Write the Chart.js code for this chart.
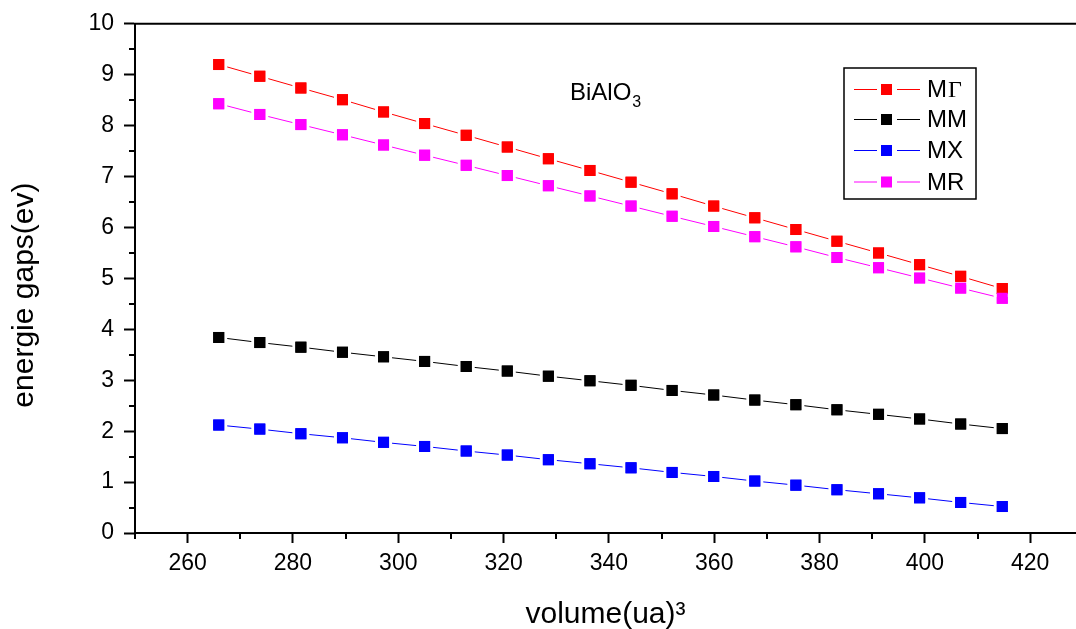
<!DOCTYPE html>
<html>
<head>
<meta charset="utf-8">
<script src="https://cdn.jsdelivr.net/npm/chart.js@4/dist/chart.umd.min.js"></script>
<style>
  html, body { margin: 0; padding: 0; background: #ffffff; overflow: hidden; }
  #wrap { width: 1076px; height: 629px; overflow: hidden; }
  canvas { display: block; }
</style>
</head>
<body>
<div id="wrap"><canvas id="c" width="1076" height="629"></canvas></div>
<script>
// ---- data ----
const volumes = [265.9, 273.7, 281.5, 289.4, 297.2, 305.0, 312.9, 320.7, 328.5, 336.4,
                 344.2, 352.0, 359.9, 367.7, 375.5, 383.3, 391.2, 399.0, 406.8, 414.7];
const gapMGamma = [9.20, 8.97, 8.74, 8.51, 8.27, 8.04, 7.81, 7.58, 7.35, 7.12,
                   6.89, 6.66, 6.42, 6.19, 5.96, 5.73, 5.50, 5.27, 5.04, 4.80];
const gapMM = [3.84, 3.74, 3.65, 3.55, 3.46, 3.37, 3.27, 3.18, 3.08, 2.99,
               2.90, 2.80, 2.71, 2.61, 2.52, 2.42, 2.33, 2.24, 2.14, 2.05];
const gapMX = [2.12, 2.04, 1.95, 1.87, 1.78, 1.70, 1.61, 1.53, 1.44, 1.36,
               1.28, 1.19, 1.11, 1.02, 0.94, 0.85, 0.77, 0.69, 0.60, 0.52];
const gapMR = [8.43, 8.22, 8.02, 7.82, 7.62, 7.42, 7.22, 7.02, 6.82, 6.62,
               6.42, 6.22, 6.02, 5.82, 5.62, 5.41, 5.21, 5.01, 4.81, 4.61];
const seriesLabels = ['M\u0393', 'MM', 'MX', 'MR'];
const seriesColors = ['#ff0000', '#000000', '#0000ff', '#ff00ff'];
const xTickLabels = [260, 280, 300, 320, 340, 360, 380, 400, 420];
const xMinorTicks = [250, 270, 290, 310, 330, 350, 370, 390, 410];
const yTickLabels = [0, 1, 2, 3, 4, 5, 6, 7, 8, 9, 10];
const yMinorTicks = [0.5, 1.5, 2.5, 3.5, 4.5, 5.5, 6.5, 7.5, 8.5, 9.5];
const xTitle = 'volume(ua)\u00b3';
const yTitle = 'energie gaps(ev)';
const compoundName = 'BiAlO';
const compoundSub = '3';

const FONT = "'Liberation Sans', Arial, sans-serif";
const allSeries = [gapMGamma, gapMM, gapMX, gapMR];

const datasets = allSeries.map((vals, i) => ({
  label: seriesLabels[i],
  data: volumes.map((v, k) => ({ x: v, y: vals[k] })),
  borderColor: seriesColors[i],
  borderWidth: 1,
  pointStyle: 'rect',
  pointRadius: 9.9,
  pointHoverRadius: 9.9,
  pointBackgroundColor: seriesColors[i],
  pointBorderColor: '#ffffff',
  pointBorderWidth: 3,
  tension: 0,
  fill: false
}));

// redraw marker fills on top so white halos never hide a neighbouring marker
const markerPlugin = {
  id: 'markers',
  afterDatasetsDraw(chart) {
    const ctx = chart.ctx;
    ctx.save();
    chart.data.datasets.forEach((ds, i) => {
      const meta = chart.getDatasetMeta(i);
      ctx.fillStyle = ds.pointBackgroundColor;
      meta.data.forEach(pt => {
        ctx.fillRect(pt.x - 5.5, pt.y - 5.5, 11, 11);
      });
    });
    ctx.restore();
  }
};

const decorPlugin = {
  id: 'decor',
  afterDraw(chart) {
    const ctx = chart.ctx;
    const xs = chart.scales.x, ys = chart.scales.y;
    const area = chart.chartArea;
    ctx.save();
    ctx.strokeStyle = '#000';
    ctx.lineWidth = 2;
    // top frame line
    ctx.beginPath();
    ctx.moveTo(area.left - 1, area.top);
    ctx.lineTo(area.right, area.top);
    ctx.stroke();
    // minor ticks
    xMinorTicks.forEach(v => {
      const px = Math.round(xs.getPixelForValue(v));
      ctx.beginPath();
      ctx.moveTo(px, area.bottom);
      ctx.lineTo(px, area.bottom + 6);
      ctx.stroke();
    });
    yMinorTicks.forEach(v => {
      const py = Math.round(ys.getPixelForValue(v));
      ctx.beginPath();
      ctx.moveTo(area.left, py);
      ctx.lineTo(area.left - 6, py);
      ctx.stroke();
    });
    // compound annotation
    ctx.fillStyle = '#000';
    ctx.textBaseline = 'alphabetic';
    ctx.textAlign = 'left';
    ctx.font = '24px ' + FONT;
    const tx = xs.getPixelForValue(332.6), ty = ys.getPixelForValue(8.51);
    ctx.fillText(compoundName, tx, ty);
    const w = ctx.measureText(compoundName).width;
    ctx.font = '16px ' + FONT;
    ctx.fillText(compoundSub, tx + w + 1, ty + 7);

    // legend
    const bx = 844, by = 68, bw = 132, bh = 131;
    ctx.lineWidth = 1.5;
    ctx.strokeStyle = '#000';
    ctx.strokeRect(bx, by, bw, bh);
    const rows = [89.5, 119.5, 150.5, 182];
    chart.data.datasets.forEach((ds, i) => {
      const y = rows[i];
      ctx.strokeStyle = ds.borderColor;
      ctx.lineWidth = 1;
      ctx.beginPath();
      ctx.moveTo(854, y); ctx.lineTo(877, y);
      ctx.moveTo(897, y); ctx.lineTo(920, y);
      ctx.stroke();
      ctx.fillStyle = ds.pointBackgroundColor;
      ctx.fillRect(881, y - 5.5, 11, 11);
      ctx.fillStyle = '#000';
      ctx.textBaseline = 'middle';
      const label = ds.label;
      if (label.indexOf('\u0393') >= 0) {
        ctx.font = '24px ' + FONT;
        ctx.fillText('M', 927, y + 1);
        const mw = ctx.measureText('M').width;
        ctx.font = "24px 'Liberation Serif', 'Times New Roman', serif";
        ctx.fillText('\u0393', 927 + mw + 1, y + 1);
      } else {
        ctx.font = '24px ' + FONT;
        ctx.fillText(label, 927, y + 1);
      }
    });
    ctx.restore();
  }
};

new Chart(document.getElementById('c'), {
  type: 'line',
  data: { datasets },
  options: {
    responsive: false,
    animation: false,
    events: [],
    layout: { autoPadding: false, padding: { top: 23, right: 0, left: 0, bottom: 0 } },
    plugins: { legend: { display: false }, tooltip: { enabled: false } },
    scales: {
      x: {
        type: 'linear',
        min: 250,
        max: 428.7,
        afterBuildTicks: s => { s.ticks = xTickLabels.map(v => ({ value: v })); },
        afterFit: s => { s.height = 96; s.paddingRight = 0; s.paddingLeft = 0; },
        grid: { display: true, drawOnChartArea: false, tickLength: 10, tickWidth: 2, tickColor: '#000' },
        border: { display: true, color: '#000', width: 2 },
        ticks: { color: '#000', font: { family: FONT, size: 23 }, padding: 7, maxRotation: 0, autoSkip: false },
        title: { display: true, text: xTitle, color: '#000', font: { family: FONT, size: 30 }, padding: { top: 0, bottom: -4 } }
      },
      y: {
        type: 'linear',
        min: 0,
        max: 10,
        afterBuildTicks: s => { s.ticks = yTickLabels.map(v => ({ value: v })); },
        afterFit: s => { s.width = 135; },
        grid: { display: true, drawOnChartArea: false, tickLength: 11, tickWidth: 2, tickColor: '#000' },
        border: { display: true, color: '#000', width: 2 },
        ticks: { color: '#000', font: { family: FONT, size: 23 }, padding: 10, autoSkip: false },
        title: { display: true, text: yTitle + '\u00a0\u00a0\u00a0\u00a0', color: '#000', font: { family: FONT, size: 30 }, padding: { top: 7, bottom: 0 } }
      }
    }
  },
  plugins: [markerPlugin, decorPlugin]
});
</script>
</body>
</html>
